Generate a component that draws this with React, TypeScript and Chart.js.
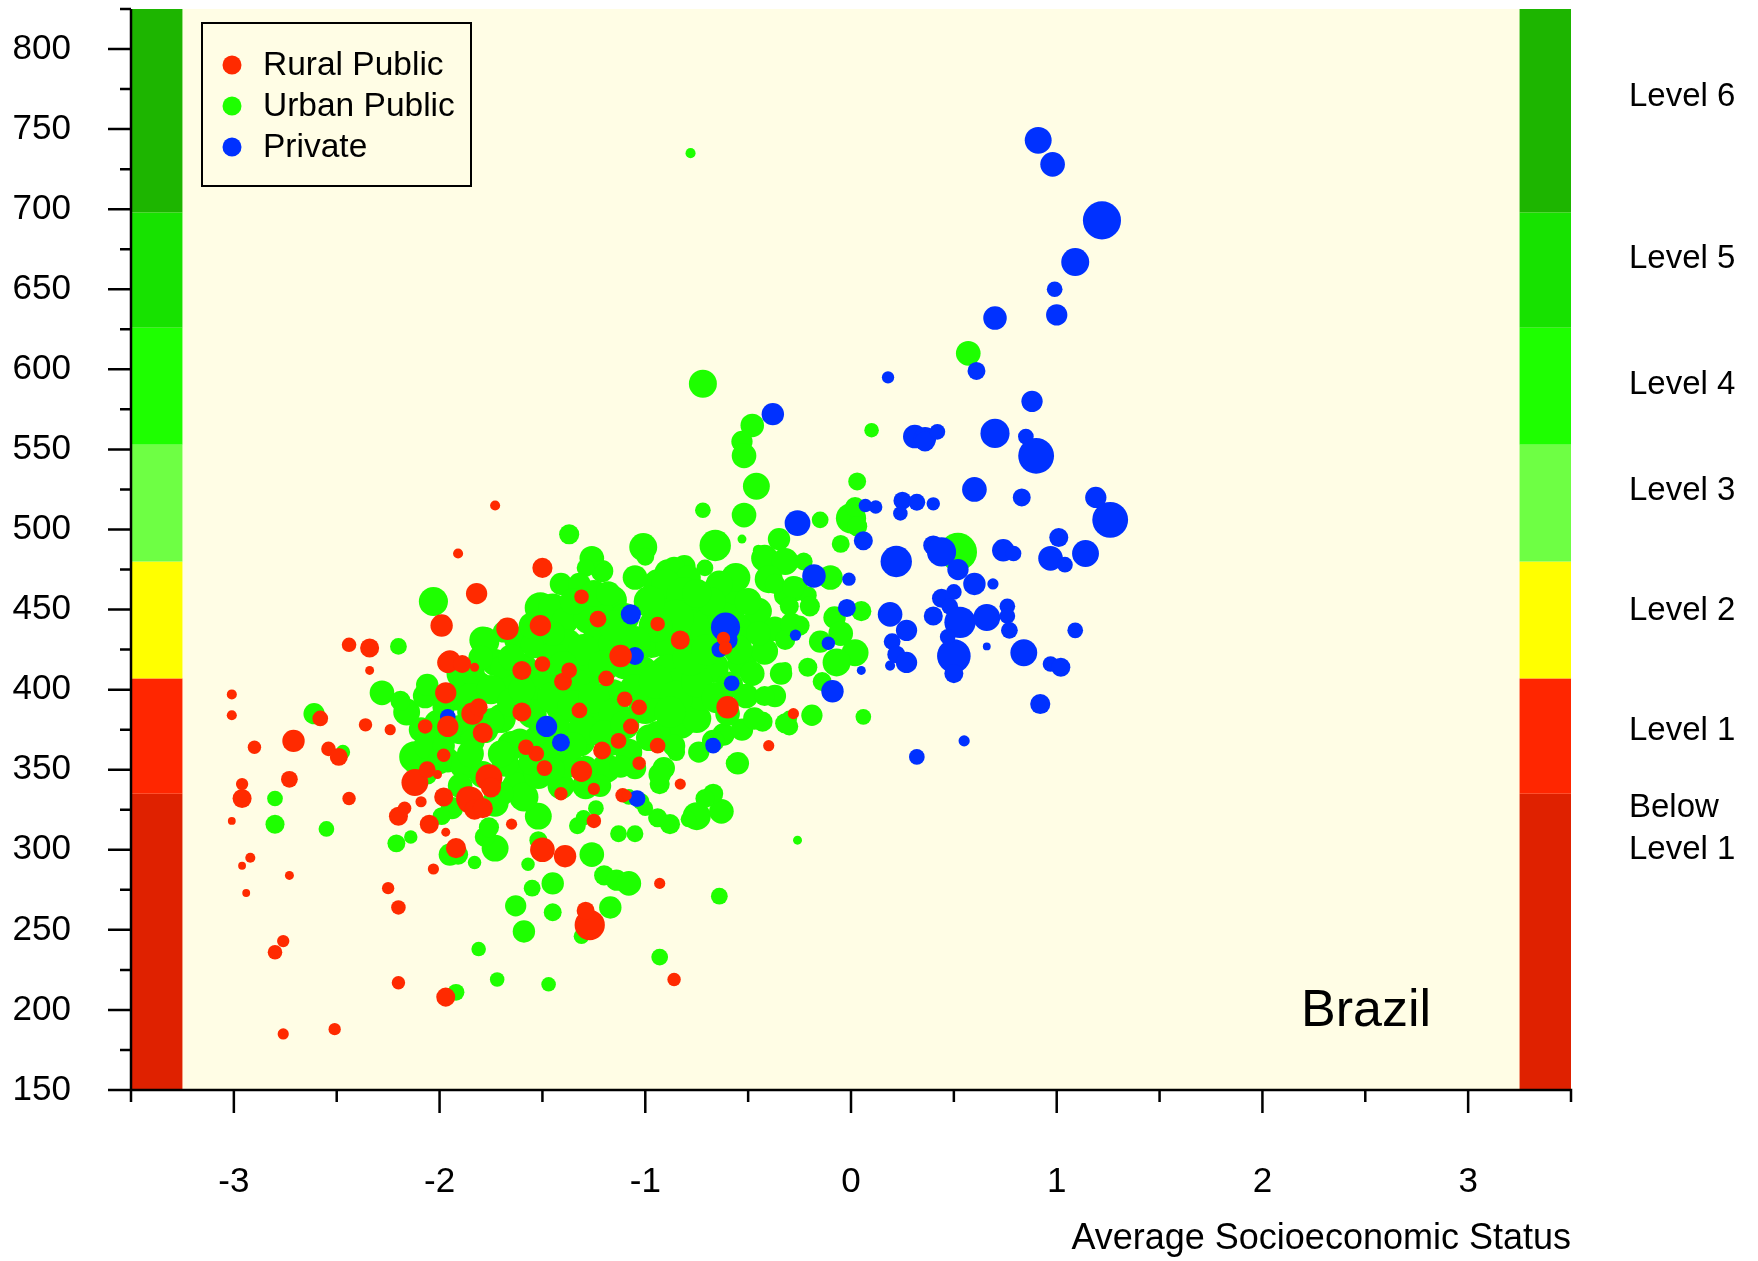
import { useEffect, useRef } from 'react';
import { Chart, registerables } from 'chart.js';

Chart.register(...registerables);

// ---------- data: [average SES, mean score, bubble radius (school size)] ----------
const ruralPublic: number[][] = [
  [-3.01,397,4.5],[-3.01,384,4.5],[-2.90,364,6],[-2.96,341,5.5],[-2.96,332,8.5],[-3.01,318,3.5],[-2.92,295,4.5],
  [-2.96,290,3.5],[-2.94,273,3.5],[-2.71,368,10],[-2.73,344,7.5],[-2.73,284,4],[-2.76,243,5.5],[-2.80,236,6.5],
  [-2.76,185,5],[-2.51,188,5.5],[-2.25,276,5.5],[-2.20,264,6.5],[-2.20,217,6],[-1.97,208,8.5],[-1.65,316,5],
  [-1.12,421,10],[-0.83,431,8.5],[-0.60,389,10],[-0.94,441,6.5],[-1.60,386,8.5],[-1.96,417,9.5],[-1.97,398,9.5],
  [-1.86,332,11],[-1.82,460,9.5],[-1.99,440,10],[-1.50,476,9],[-1.40,405,8],[-1.84,385,10],[-1.31,349,9.5],
  [-1.51,440,9.5],[-1.67,438,10],[-1.31,458,6.5],[-1.23,444,7.5],[-1.50,300,11],[-1.39,296,10],[-1.27,253,13.5],
  [-1.29,262,8],[-1.76,345,12],[-1.75,339,9],[-2.12,342,12],[-1.85,331,12],[-1.83,325,9],[-1.79,326,9],
  [-0.93,279,5],[-0.86,219,6],[-0.83,341,5],[-0.40,365,5],[-0.28,385,5],[-1.73,515,4.5],[-1.91,485,4.5],
  [-1.60,412,8.5],[-1.10,394,7],[-1.03,389,7],[-0.94,365,7],[-1.03,354,6],[-1.13,368,7],[-1.21,362,8],
  [-1.41,335,6],[-1.53,360,7],[-1.49,351,7],[-1.58,364,7],[-1.79,373,9],[-1.81,389,8],[-1.32,387,7],
  [-1.07,377,7],[-1.95,418,9.5],[-1.89,416,8],[-1.83,414,4],[-1.50,416,7],[-1.37,412,7],[-0.62,432,6],
  [-0.61,426,6],[-1.11,334,6.5],[-1.25,318,6.5],[-2.05,316,8.5],[-1.97,311,4],[-2.03,288,5],[-1.92,301,9],
  [-2.20,321,8.5],[-2.17,326,6],[-2.09,330,5],[-1.98,333,8.5],[-2.06,350,7.5],[-2.01,347,4],[-2.07,377,6.5],
  [-1.98,359,6],[-1.96,377,9.5],[-2.36,378,6],[-2.24,375,5],[-2.34,426,8.5],[-2.44,428,6.5],[-2.34,412,4],
  [-2.58,382,7],[-2.54,363,6.5],[-2.49,358,8],[-2.44,332,6],[-1.25,338,5.5],[-1.09,334,4.5],[-1.19,407,7]
];

const urbanPublic: number[][] = [
  [-0.78,735,4.5],[-0.72,591,12.5],[-0.48,565,10.5],[-0.53,555,9.5],[-0.52,546,11],[-0.46,527,12],[-0.72,512,7],
  [-0.52,509,11],[-0.53,494,4],[-0.66,490,14],[-0.45,487,5],[-0.35,494,10],[-0.42,482,12],[-0.32,480,12],
  [-0.40,469,12.5],[-0.27,463,11],[-0.71,476,7.5],[-0.59,466,13],[-0.65,462,13],[-0.15,506,7.5],[0.00,507,13.5],
  [0.02,514,9],[0.03,502,9],[0.03,530,8],[0.10,562,6.5],[-0.05,491,8],[-0.10,470,11],[0.05,449,9],[-0.08,445,10],
  [-0.05,435,11],[0.02,423,12],[-0.07,417,12.5],[-0.32,413,6],[-0.19,384,9.5],[0.06,383,7],[0.52,486,17],[0.57,610,11],
  [-0.26,306,4],[-0.64,271,7.5],[-0.93,233,7.5],[-0.75,321,12.5],[-0.63,324,11],[-0.67,335,9],[-0.71,332,8.5],
  [-0.94,320,8.5],[-0.88,316,9],[-0.93,341,9],[-0.91,351,10],[-0.55,354,10],[-0.74,361,9.5],[-0.85,361,8],
  [-0.62,372,10],[-0.43,380,9],[-0.30,377,8],[-0.30,382,7],[-1.02,330,7.5],[-1.13,310,7.5],[-1.05,310,7.5],
  [-1.33,315,7.5],[-1.30,320,7],[-1.52,321,12],[-1.52,306,8],[-1.20,284,9],[-1.14,281,9.5],[-1.08,279,11],
  [-1.26,297,11],[-1.45,279,10],[-1.55,276,7.5],[-1.57,291,6],[-1.59,249,10],[-1.63,265,9.5],[-1.45,261,8],
  [-1.17,264,10],[-1.31,246,7],[-1.47,216,6.5],[-1.72,219,6.5],[-1.81,238,6.5],[-1.92,211,7.5],[-1.73,301,12],
  [-1.78,308,9],[-1.76,314,9],[-1.83,292,6],[-1.95,297,10],[-1.91,297,9],[-1.94,326,10],[-1.99,321,8],
  [-2.21,304,8],[-2.14,308,6],[-2.55,313,7],[-2.80,316,8.5],[-2.80,332,7],[-2.61,385,9.5],[-2.47,361,6.5],
  [-2.20,427,7.5],[-2.03,455,13],[-1.79,431,12],[-1.69,436,9.5],
  [-2.12,358,14],[-2.04,366,12],[-2.28,398,11],[-2.16,386,12],[-2.19,393,9],[-2.07,396,11],[-2.09,375,11],
  [-2.11,356,13],[-2.06,365,12],[-2.01,379,12],[-2.06,403,10],[-1.96,356,11],[-1.88,353,13],[-1.90,375,13],
  [-1.92,396,13],[-1.89,410,14],[-1.78,430,13],[-1.68,403,13],[-1.70,382,13],[-1.65,365,13],[-1.61,347,13],
  [-1.63,340,12],[-1.68,354,12],[-1.79,347,12],[-1.73,329,12],[-1.59,333,13],[-1.52,347,13],[-1.52,368,14],
  [-1.57,396,13],[-1.49,410,14],[-1.51,451,14],[-1.45,451,13],[-1.39,443,12],[-1.37,497,9],[-1.26,482,11],
  [-1.21,474,10],[-1.16,456,13],[-1.22,449,12],[-1.11,442,12],[-1.01,489,12.5],[-1.00,483,8],[-1.29,476,8],
  [-1.20,474,8],[-1.10,445,13],[-1.27,445,15],[-1.24,428,15],[-1.29,410,15],[-1.38,428,14],[-1.40,389,15],
  [-1.35,403,15],[-1.43,375,13],[-1.32,368,14],[-1.24,382,15],[-1.16,396,15],[-1.10,417,15],[-1.16,368,13],
  [-1.19,351,13],[-1.08,361,12],[-1.29,340,12],[-1.41,340,12],[-1.38,354,13],[-1.29,351,11],[-1.00,389,15],
  [-1.02,410,16],[-0.97,431,16],[-0.91,452,15],[-0.94,466,13],[-0.89,473,12],[-0.81,477,10],[-0.86,476,10],
  [-0.79,470,11],[-0.90,466,13],[-0.81,459,16],[-0.73,449,15],[-0.78,438,17],[-0.86,428,17],[-0.89,410,17],
  [-0.81,403,17],[-0.91,393,15],[-0.83,379,14],[-0.94,372,12],[-0.86,365,10],[-0.75,382,13],[-0.73,396,13],
  [-0.67,414,14],[-0.64,431,15],[-0.59,452,15],[-0.56,470,13],[-0.64,466,12],[-0.51,438,13],[-0.45,449,12],
  [-0.53,417,13],[-0.42,424,12],[-0.37,438,11],[-0.34,410,10],[-0.59,403,12],[-0.51,396,11],[-0.37,396,10],
  [-0.53,375,10],[-0.67,368,10],[-1.05,351,10],[-0.93,347,10],[-1.61,368,11],[-1.78,375,12],[-1.81,403,12],
  [-1.73,417,12],[-1.62,431,12],[-1.59,414,12],[-1.54,428,12],[-1.41,466,10],[-1.32,466,10],[-1.16,428,13],
  [-1.70,414,10],[-1.84,410,11],[-1.98,389,10],[-1.98,365,10],[-2.06,347,9],[-1.84,368,11],[-1.86,386,10],
  [-1.24,326,7],[-1.08,333,7],[-1.00,326,7],[-0.79,319,7],[-0.32,459,10],[-0.21,459,8],[-0.23,480,8],
  [-0.37,466,9],[-0.28,464,10],[-0.20,452,9],[-0.25,440,9],[-0.15,430,10],[-0.21,414,8.5],[-0.14,405,8.5],
  [-0.30,452,8.5],[-0.29,441,10],[-0.32,431,9],[-0.47,382,10],[-0.42,396,9],[-0.32,379,9],[-0.56,354,9],
  [-1.85,395,13],[-1.75,400,13],[-1.65,392,13],[-1.55,385,13],[-1.45,395,14],[-1.35,390,14],[-1.25,395,14],
  [-1.15,385,14],[-1.05,400,14],[-0.95,405,15],[-0.85,395,15],[-0.75,405,14],[-0.65,395,14],[-0.55,425,13],
  [-0.70,440,15],[-0.85,445,16],[-0.95,440,15],[-1.05,430,14],[-1.15,440,14],[-1.25,460,12],[-1.35,455,12],
  [-1.45,420,14],[-1.55,440,12],[-1.65,420,12],[-1.75,380,12],[-1.85,360,12],[-1.70,360,12],[-1.55,355,12],
  [-1.45,360,12],[-1.30,375,14],[-1.20,372,13],[-1.10,378,13],[-0.98,370,12],[-0.88,386,14],[-0.78,420,16],
  [-0.70,425,14],[-0.62,445,14],[-0.50,455,12],[-0.45,435,11],[-0.48,410,11],[-0.60,385,11],[-0.68,455,13],
  [-0.75,460,13],[-0.98,455,14],[-1.05,470,11],[-1.18,460,11],[-1.45,435,11],[-1.30,425,14],[-1.20,415,14],
  [-1.40,415,13],[-1.60,400,12],[-1.80,420,11],[-1.95,375,11],[-2.00,355,11],[-1.90,340,11],[-1.70,335,11],
  [-1.45,350,11],[-1.22,340,10],[-1.12,352,10],[-1.35,365,12]
];

const privateSchools: number[][] = [
  [0.91,743,12],[0.98,728,11],[1.22,693,17],[1.09,667,12.5],[0.99,650,7],[1.00,634,9.5],[0.70,632,10.5],
  [0.61,599,8],[0.18,595,5.5],[0.88,580,9.5],[-0.38,572,10],[0.31,558,10.5],[0.36,557,10],[0.36,555,9],
  [0.42,561,7],[0.70,560,13],[0.85,558,7],[0.90,546,16],[0.60,525,11],[0.83,520,8],[1.19,520,9.5],[1.26,506,16],
  [1.01,495,8.5],[1.14,485,12],[0.97,482,11],[1.04,478,7],[-0.26,504,11.5],[0.22,480,14],[0.06,493,8.5],
  [0.25,518,8],[0.32,517,7.5],[0.24,510,6.5],[0.40,516,6],[0.07,515,6],[0.12,514,6],[0.40,490,9],[0.44,486,13],
  [0.52,475,9.5],[0.74,487,10],[0.79,485,7],[-0.18,471,10.5],[-0.01,469,6],[0.60,466,10],[0.69,466,5],
  [0.50,461,7],[0.44,457,8.5],[0.48,452,7.5],[0.53,442,14],[0.66,445,12],[0.40,446,8.5],[0.19,447,11],
  [0.76,452,7],[0.76,446,7],[0.77,437,7.5],[0.27,437,9.5],[1.09,437,7],[0.20,430,7.5],[0.22,422,8],
  [0.27,417,9.5],[0.19,415,4.5],[0.05,412,4],[0.50,421,15],[0.50,410,8.5],[0.47,433,7],[0.66,427,3.5],
  [0.84,423,12],[0.97,416,7],[1.02,414,8.5],[0.92,391,9],[0.55,368,5],[0.32,358,7],[-0.09,399,10],
  [-0.02,451,8],[-0.11,429,6],[-0.27,434,5],
  [-1.07,447,9],[-1.05,421,8],[-1.48,377,9.5],[-1.41,367,8],[-1.04,332,7.5],[-0.61,439,13],[-0.64,425,7],
  [-0.68,366,5],[-0.58,404,7],[-1.96,383,7],[-0.67,365,7],[-0.60,431,9]
];

const seriesNames = ['Rural Public', 'Urban Public', 'Private'];

// PISA reading proficiency bands (lower bounds) and labels
const levelBounds = [150, 335, 407, 480, 553, 626, 698, 825];
const levelNames = [['Below', 'Level 1'], ['Level 1'], ['Level 2'], ['Level 3'], ['Level 4'], ['Level 5'], ['Level 6']];
const levelLabelAt = [313, 374, 449, 524, 590, 669, 770];

const xMajorTicks = [-3, -2, -1, 0, 1, 2, 3];
const xMinorTicks = [-3.5, -2.5, -1.5, -0.5, 0.5, 1.5, 2.5, 3.5];
const yMajorTicks = [150, 200, 250, 300, 350, 400, 450, 500, 550, 600, 650, 700, 750, 800];
const yMinorTicks = [175, 225, 275, 325, 375, 425, 475, 525, 575, 625, 675, 725, 775, 825];

const countryName = 'Brazil';
const xAxisTitle = 'Average Socioeconomic Status';

// ---------- styles ----------
const FONT = "'Liberation Sans', Arial, Helvetica, sans-serif";
const RED = '#FF2A00';
const GREEN = '#1EFF00';
const BLUE = '#0031FF';
const PLOT_BG = '#FFFDE5';
const LEVEL_COLORS = ['#DF2100', '#FF2600', '#FFFF00', '#6EFF44', '#1EFF00', '#17E200', '#1DB500'];
const SERIES_COLORS = [RED, GREEN, BLUE];
const RADIUS_SCALE = 1.12;

const toPoints = (rows: number[][]) => rows.map(([x, y, r]) => ({ x, y, r: r * RADIUS_SCALE }));

const decorPlugin = {
  id: 'decor',
  beforeDatasetsDraw(chart: any) {
    const { ctx, chartArea: a, scales } = chart;
    const xs = scales.x, ys = scales.y;
    ctx.save();
    ctx.fillStyle = PLOT_BG;
    ctx.fillRect(a.left, a.top, a.right - a.left, a.bottom - a.top);
    const l0 = xs.getPixelForValue(-3.5), l1 = xs.getPixelForValue(-3.25);
    const r0 = xs.getPixelForValue(3.25), r1 = xs.getPixelForValue(3.5);
    for (let i = 0; i < LEVEL_COLORS.length; i++) {
      const yTop = ys.getPixelForValue(levelBounds[i + 1]);
      const yBot = ys.getPixelForValue(levelBounds[i]);
      ctx.fillStyle = LEVEL_COLORS[i];
      ctx.fillRect(l0, yTop, l1 - l0, yBot - yTop);
      ctx.fillRect(r0, yTop, r1 - r0, yBot - yTop);
    }
    ctx.restore();
  },
  afterDraw(chart: any) {
    const { ctx, chartArea: a, scales } = chart;
    const xs = scales.x, ys = scales.y;
    ctx.save();
    // axes
    ctx.strokeStyle = '#000';
    ctx.lineWidth = 2.5;
    ctx.lineCap = 'butt';
    ctx.beginPath();
    ctx.moveTo(a.left, a.top);
    ctx.lineTo(a.left, a.bottom);
    ctx.moveTo(a.left - 1.25, a.bottom);
    ctx.lineTo(a.right + 1.25, a.bottom);
    for (const v of yMajorTicks) { const p = ys.getPixelForValue(v); ctx.moveTo(a.left - 23, p); ctx.lineTo(a.left, p); }
    for (const v of yMinorTicks) { const p = ys.getPixelForValue(v); ctx.moveTo(a.left - 11, p); ctx.lineTo(a.left, p); }
    for (const v of xMajorTicks) { const p = xs.getPixelForValue(v); ctx.moveTo(p, a.bottom); ctx.lineTo(p, a.bottom + 23); }
    for (const v of xMinorTicks) { const p = xs.getPixelForValue(v); ctx.moveTo(p, a.bottom); ctx.lineTo(p, a.bottom + 12); }
    ctx.stroke();

    // level labels
    ctx.fillStyle = '#000';
    ctx.font = `33px ${FONT}`;
    ctx.textAlign = 'left';
    ctx.textBaseline = 'middle';
    const lx = a.right + 58;
    levelNames.forEach((lines, i) => {
      const c = ys.getPixelForValue(levelLabelAt[i]);
      const lh = 42;
      lines.forEach((t, j) => {
        ctx.fillText(t, lx, c + (j - (lines.length - 1) / 2) * lh);
      });
    });

    // country name
    ctx.font = `52px ${FONT}`;
    ctx.textAlign = 'right';
    ctx.fillText(countryName, a.right - 140, a.bottom - 78);

    // legend
    const bx = a.left + 71, by = a.top + 14, bw = 269, bh = 163;
    ctx.fillStyle = PLOT_BG;
    ctx.fillRect(bx, by, bw, bh);
    ctx.lineWidth = 2;
    ctx.strokeStyle = '#000';
    ctx.strokeRect(bx, by, bw, bh);
    ctx.font = `33.5px ${FONT}`;
    ctx.textAlign = 'left';
    seriesNames.forEach((name, i) => {
      const cy = by + 42 + i * 41;
      ctx.fillStyle = SERIES_COLORS[i];
      ctx.beginPath();
      ctx.arc(bx + 30, cy, 9.5, 0, Math.PI * 2);
      ctx.fill();
      ctx.fillStyle = '#000';
      ctx.fillText(name, bx + 61, cy + 1);
    });
    ctx.restore();
  }
};

export default function App() {
  const ref = useRef<HTMLCanvasElement>(null);
  useEffect(() => {
    if (!ref.current) return;
    const mk = (label: string, rows: number[][], color: string) => ({
      label,
      data: toPoints(rows),
      backgroundColor: color,
      borderWidth: 0,
      hoverRadius: 0,
    });
    const chart = new Chart(ref.current, {
      type: 'bubble',
      data: {
        datasets: [
          mk(seriesNames[0], ruralPublic, RED),
          mk(seriesNames[2], privateSchools, BLUE),
          mk(seriesNames[1], urbanPublic, GREEN),
        ],
      },
      options: {
        responsive: false,
        animation: false,
        events: [],
        layout: { autoPadding: false, padding: { left: 0, right: 187, top: 9, bottom: 0 } },
        plugins: { legend: { display: false }, tooltip: { enabled: false } },
        scales: {
          x: {
            type: 'linear',
            min: -3.5,
            max: 3.5,
            grid: { display: false, drawTicks: false },
            border: { display: false },
            ticks: { color: '#000', font: { family: FONT, size: 35 }, padding: 71, maxRotation: 0 },
            afterBuildTicks: (s: any) => { s.ticks = xMajorTicks.map((v) => ({ value: v })); },
            afterFit: (s: any) => { s.height = 171; s.paddingLeft = 0; s.paddingRight = 0; s.paddingTop = 0; s.paddingBottom = 0; },
            title: {
              display: true,
              text: xAxisTitle,
              align: 'end',
              color: '#000',
              font: { family: FONT, size: 36 },
              padding: { top: 0, bottom: 0 },
            },
          },
          y: {
            type: 'linear',
            min: 150,
            max: 825,
            grid: { display: false, drawTicks: false },
            border: { display: false },
            ticks: { color: '#000', font: { family: FONT, size: 35 }, padding: 60 },
            afterBuildTicks: (s: any) => { s.ticks = yMajorTicks.map((v) => ({ value: v })); },
            afterFit: (s: any) => { s.width = 131; s.paddingLeft = 0; s.paddingRight = 0; s.paddingTop = 0; s.paddingBottom = 0; },
          },
        },
      } as any,
      plugins: [decorPlugin],
    });
    return () => chart.destroy();
  }, []);
  return (
    <div style={{ position: 'absolute', left: 0, top: 0, width: 1758, height: 1261, background: '#fff' }}>
      <canvas ref={ref} width={1758} height={1261} style={{ display: 'block' }} />
    </div>
  );
}
